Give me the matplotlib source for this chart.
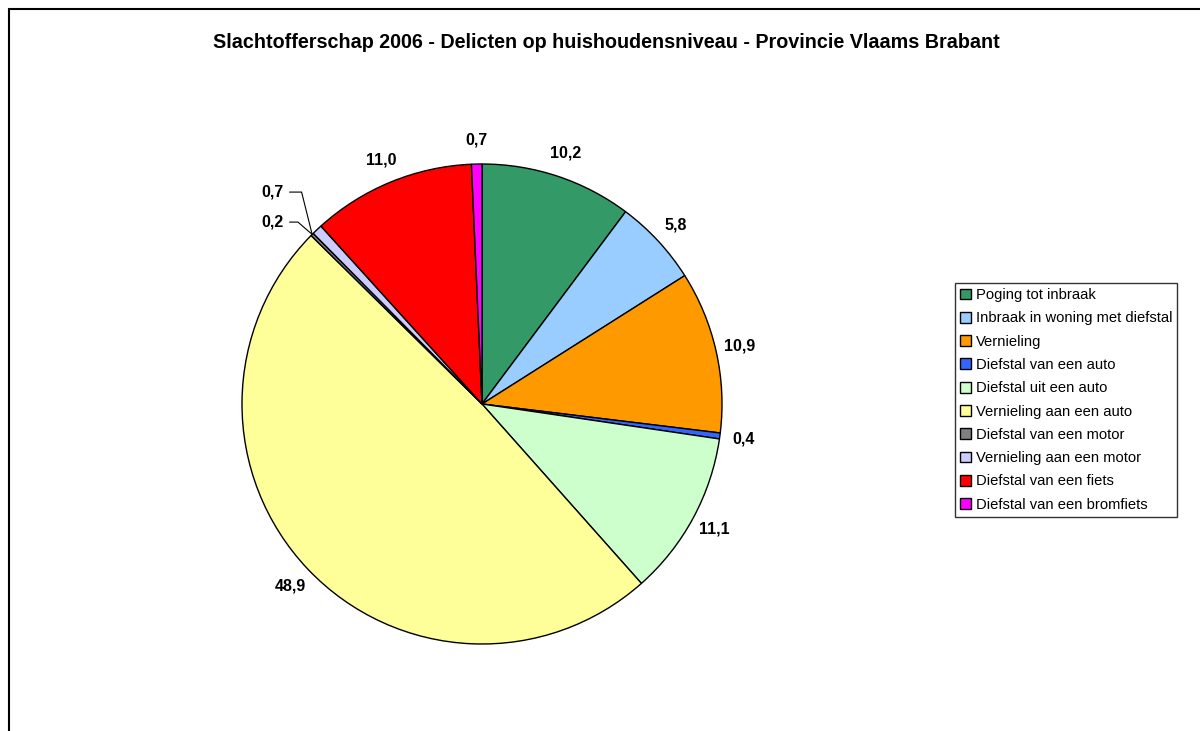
import numpy as np
import matplotlib.pyplot as plt
from matplotlib.patches import Rectangle

plt.rcParams['font.family'] = ['Liberation Sans', 'DejaVu Sans']

# data
categories = ['Poging tot inbraak', 'Inbraak in woning met diefstal', 'Vernieling',
              'Diefstal van een auto', 'Diefstal uit een auto', 'Vernieling aan een auto',
              'Diefstal van een motor', 'Vernieling aan een motor', 'Diefstal van een fiets',
              'Diefstal van een bromfiets']
values = [10.2, 5.8, 10.9, 0.4, 11.1, 48.9, 0.2, 0.7, 11.0, 0.7]
colors = ['#339966', '#99CCFF', '#FF9900', '#3366FF', '#CCFFCC',
          '#FFFF99', '#808080', '#CCCCFF', '#FF0000', '#FF00FF']
title = 'Slachtofferschap 2006 - Delicten op huishoudensniveau - Provincie Vlaams Brabant'

W, H = 1200, 731
fig = plt.figure(figsize=(W / 100, H / 100), dpi=100)

# pie centre ~ (482, 404) px, radius 240 px
k = 1.3
half = 240 * k
ax = fig.add_axes([(482 - half) / W, (H - 404 - half) / H, 2 * half / W, 2 * half / H])

wedges, _ = ax.pie(values, colors=colors, startangle=90, counterclock=False,
                   wedgeprops=dict(edgecolor='black', linewidth=1.0))
ax.set_xlim(-k, k)
ax.set_ylim(-k, k)
ax.axis('off')

# point where the two tiny motor slices start (leader lines end there)
g = wedges[6]
gm = np.deg2rad((g.theta1 + g.theta2) / 2)
leader_end = (np.cos(gm), np.sin(gm))

label_kw = dict(fontsize=11.5, fontweight='bold', ha='center', va='center')
for i, w in enumerate(wedges):
    mid = np.deg2rad((w.theta1 + w.theta2) / 2)
    txt = f'{values[i]:.1f}'.replace('.', ',')
    ex, ey = np.cos(mid), np.sin(mid)
    if i in (6, 7):
        # small slices: label to the left with leader line
        ty, angB = (0.758, 139) if i == 6 else (0.883, 104)
        ax.annotate(txt, xy=leader_end, xytext=(-0.825, ty), ha='right', va='center',
                    fontsize=11.5, fontweight='bold',
                    arrowprops=dict(arrowstyle='-', color='black', lw=0.8,
                                    connectionstyle=f'angle,angleA=0,angleB={angB},rad=0',
                                    shrinkA=2, shrinkB=0))
    else:
        ax.text(1.1 * ex, 1.1 * ey, txt, **label_kw)

fig.text(606 / W, 1 - 42 / H, title, ha='center', va='center', fontsize=14.2, fontweight='bold')

leg = fig.legend(wedges, categories, loc='upper left', bbox_to_anchor=(955 / W, 1 - 283 / H),
                 fontsize=10.6, frameon=True, fancybox=False, borderpad=0.35,
                 handlelength=0.75, handleheight=0.75, handletextpad=0.3,
                 labelspacing=0.63, borderaxespad=0)
leg.get_frame().set_edgecolor('black')
leg.get_frame().set_linewidth(1.0)

# outer chart frame (only top/left visible)
fig.patches.append(Rectangle((8.5 / W, -0.1), 1.2, (H - 8.5) / H + 0.1, transform=fig.transFigure,
                             fill=False, edgecolor='black', linewidth=1.5))

fig.savefig('out.png', dpi=100)
